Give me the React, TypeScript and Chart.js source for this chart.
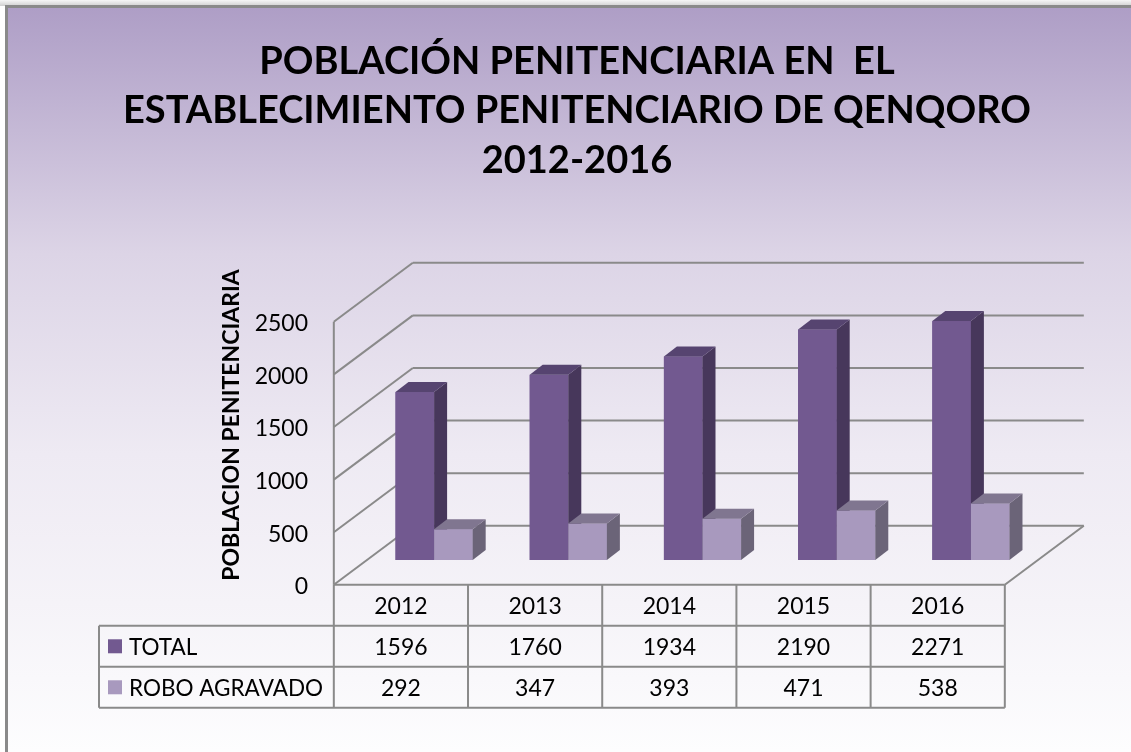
import React, { useEffect, useRef } from 'react';
import { Chart, registerables } from 'chart.js';

Chart.register(...registerables);

// ---------------- data ----------------
const categories = ['2012', '2013', '2014', '2015', '2016'];
const totalValues = [1596, 1760, 1934, 2190, 2271];
const roboValues = [292, 347, 393, 471, 538];
const seriesNames = ['TOTAL', 'ROBO AGRAVADO'];
const yTicks = [0, 500, 1000, 1500, 2000, 2500];
const titleLines = [
  'POBLACIÓN PENITENCIARIA EN  EL',
  'ESTABLECIMIENTO PENITENCIARIO DE QENQORO',
  '2012-2016',
];
const yAxisTitle = 'POBLACION PENITENCIARIA';

// ---------------- styles ----------------
const W = 1131;
const H = 752;
const FONT = 'Lato, "Open Sans", "Noto Sans", sans-serif';
const frontColors = ['#725990', '#A899BE'];
const topColors = ['#564470', '#807690'];
const sideColors = ['#47375B', '#6B6478'];
const GRID = '#8a8a8a';
const DEPTH_X = 79;
const DEPTH_Y = -59;
const BAR_FRAC = 0.42;
const BAR_DX = 13;
const BAR_DY = -10;

function geometry(chart: any) {
  const xs = chart.scales.x;
  const ys = chart.scales.y;
  const n = categories.length;
  const cw = xs.getPixelForValue(1) - xs.getPixelForValue(0);
  const fx = -BAR_FRAC * DEPTH_X;
  const fy = -BAR_FRAC * DEPTH_Y;
  const bx = (1 - BAR_FRAC) * DEPTH_X;
  const by = (1 - BAR_FRAC) * DEPTH_Y;
  const left = xs.getPixelForValue(0) - cw / 2;
  const right = xs.getPixelForValue(n - 1) + cw / 2;
  return {
    xs, ys, n, cw,
    fl: left + fx, fr: right + fx,
    bl: left + bx, br: right + bx,
    yf: (v: number) => ys.getPixelForValue(v) + fy,
    yb: (v: number) => ys.getPixelForValue(v) + by,
    colX: (i: number) => xs.getPixelForValue(i) + fx,
  };
}

const excel3d = {
  id: 'excel3d',
  beforeDraw(chart: any) {
    const ctx = chart.ctx as CanvasRenderingContext2D;
    ctx.save();
    ctx.fillStyle = '#ffffff';
    ctx.fillRect(0, 0, W, H);
    const sg = ctx.createLinearGradient(0, 0, 0, 6);
    sg.addColorStop(0, '#f6f6f6');
    sg.addColorStop(1, '#d0d0d0');
    ctx.fillStyle = sg;
    ctx.fillRect(0, 0, W, 6);
    const g = ctx.createLinearGradient(0, 8, 0, H);
    g.addColorStop(0, '#AE9EC6');
    g.addColorStop(0.33, '#DCD4E6');
    g.addColorStop(0.6, '#EEEAF3');
    g.addColorStop(0.8, '#F5F3F8');
    g.addColorStop(1, '#FDFDFE');
    ctx.fillStyle = g;
    ctx.fillRect(8, 8, W - 8, H - 8);
    ctx.fillStyle = '#8a8a8a';
    ctx.fillRect(5, 5, W - 5, 3);
    ctx.fillRect(5, 5, 3, H - 5);

    // title
    ctx.fillStyle = '#000';
    ctx.textAlign = 'center';
    ctx.textBaseline = 'alphabetic';
    ctx.font = `bold 38px ${FONT}`;
    const baselines = [74, 123, 173];
    titleLines.forEach((t, i) => ctx.fillText(t, 577, baselines[i]));
    ctx.restore();
  },
  beforeDatasetsDraw(chart: any) {
    const ctx = chart.ctx as CanvasRenderingContext2D;
    const G = geometry(chart);
    ctx.save();
    ctx.strokeStyle = GRID;
    ctx.lineWidth = 2;
    // back wall gridlines and left wall diagonals
    yTicks.forEach((v) => {
      ctx.beginPath();
      ctx.moveTo(G.bl, G.yb(v));
      ctx.lineTo(G.br, G.yb(v));
      ctx.stroke();
      ctx.beginPath();
      ctx.moveTo(G.fl, G.yf(v));
      ctx.lineTo(G.bl, G.yb(v));
      ctx.stroke();
    });
    const top = yTicks[yTicks.length - 1];
    // left wall front edge
    ctx.beginPath();
    ctx.moveTo(G.fl, G.yf(top));
    ctx.lineTo(G.fl, G.yf(0));
    ctx.stroke();
    // floor right edge
    ctx.beginPath();
    ctx.moveTo(G.fr, G.yf(0));
    ctx.lineTo(G.br, G.yb(0));
    ctx.stroke();

    // y tick labels
    ctx.fillStyle = '#000';
    ctx.font = `23px ${FONT}`;
    ctx.textAlign = 'right';
    ctx.textBaseline = 'middle';
    yTicks.forEach((v) => ctx.fillText(String(v), 308, G.yf(v) + 2));

    // y axis title
    ctx.save();
    ctx.translate(232, 425);
    ctx.rotate(-Math.PI / 2);
    ctx.font = `bold 23px ${FONT}`;
    ctx.textAlign = 'center';
    ctx.textBaseline = 'middle';
    ctx.fillText(yAxisTitle, 0, 0);
    ctx.restore();

    // data table
    const tLeft = 99;
    const rows = [G.yf(0), G.yf(0) + 41, G.yf(0) + 82, G.yf(0) + 123];
    ctx.strokeStyle = GRID;
    ctx.lineWidth = 2;
    ctx.beginPath();
    ctx.moveTo(G.fl, rows[0]);
    ctx.lineTo(G.fr, rows[0]);
    for (let r = 1; r < rows.length; r++) {
      ctx.moveTo(tLeft, rows[r]);
      ctx.lineTo(G.fr, rows[r]);
    }
    ctx.moveTo(tLeft, rows[1]);
    ctx.lineTo(tLeft, rows[3]);
    for (let i = 0; i <= G.n; i++) {
      const x = G.fl + i * G.cw;
      ctx.moveTo(x, rows[0]);
      ctx.lineTo(x, rows[3]);
    }
    ctx.stroke();

    ctx.fillStyle = '#000';
    ctx.font = `23px ${FONT}`;
    ctx.textAlign = 'center';
    ctx.textBaseline = 'middle';
    const seriesVals = [totalValues, roboValues];
    categories.forEach((c, i) => {
      const cx = G.colX(i);
      ctx.fillText(c, cx, (rows[0] + rows[1]) / 2 + 1);
      seriesVals.forEach((vals, s) => {
        ctx.fillText(String(vals[i]), cx, (rows[s + 1] + rows[s + 2]) / 2 + 1);
      });
    });
    ctx.textAlign = 'left';
    ctx.font = `22.5px ${FONT}`;
    seriesNames.forEach((name, s) => {
      const cy = (rows[s + 1] + rows[s + 2]) / 2;
      ctx.fillStyle = frontColors[s];
      ctx.fillRect(108, cy - 7, 14, 14);
      ctx.fillStyle = '#000';
      ctx.fillText(name, 129, cy + 1);
    });
    ctx.restore();
  },
  afterDatasetsDraw(chart: any) {
    const ctx = chart.ctx as CanvasRenderingContext2D;
    ctx.save();
    for (let i = 0; i < categories.length; i++) {
      for (let d = 0; d < 2; d++) {
        const el = chart.getDatasetMeta(d).data[i];
        const { x, y, base, width } = el.getProps(['x', 'y', 'base', 'width'], true);
        const l = x - width / 2;
        const r = x + width / 2;
        ctx.fillStyle = frontColors[d];
        ctx.fillRect(l, y, width, base - y);
        ctx.fillStyle = sideColors[d];
        ctx.beginPath();
        ctx.moveTo(r, y);
        ctx.lineTo(r + BAR_DX, y + BAR_DY);
        ctx.lineTo(r + BAR_DX, base + BAR_DY);
        ctx.lineTo(r, base);
        ctx.closePath();
        ctx.fill();
        ctx.fillStyle = topColors[d];
        ctx.beginPath();
        ctx.moveTo(l, y);
        ctx.lineTo(l + BAR_DX, y + BAR_DY);
        ctx.lineTo(r + BAR_DX, y + BAR_DY);
        ctx.lineTo(r, y);
        ctx.closePath();
        ctx.fill();
      }
    }
    ctx.restore();
  },
};

export default function App() {
  const ref = useRef<HTMLCanvasElement>(null);
  useEffect(() => {
    document.body.style.margin = '0';
    const canvas = ref.current!;
    const chart = new Chart(canvas, {
      type: 'bar',
      data: {
        labels: categories,
        datasets: [
          { label: seriesNames[0], data: totalValues, backgroundColor: frontColors[0], borderWidth: 0 },
          { label: seriesNames[1], data: roboValues, backgroundColor: frontColors[1], borderWidth: 0 },
        ],
      },
      options: {
        responsive: false,
        animation: false,
        devicePixelRatio: 1,
        layout: { padding: { left: 367, right: 93, top: 297, bottom: 192 } },
        datasets: { bar: { categoryPercentage: 0.575, barPercentage: 1 } },
        scales: {
          x: { display: false, offset: true, grid: { display: false } },
          y: { display: false, min: 0, max: 2500, ticks: { stepSize: 500 } },
        },
        plugins: { legend: { display: false }, tooltip: { enabled: false }, title: { display: false } },
      },
      plugins: [excel3d],
    });
    return () => chart.destroy();
  }, []);
  return <canvas ref={ref} width={W} height={H} style={{ display: 'block', width: W, height: H }} />;
}
